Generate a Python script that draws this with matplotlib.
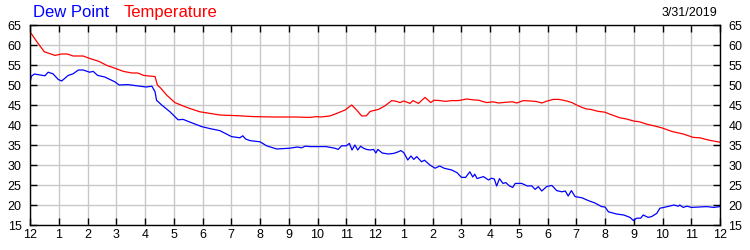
import matplotlib.pyplot as plt

# (hour after midnight, temperature F)
temp_readings = [
    (0, 63.3), (0.28, 60.4), (0.5, 58.3), (0.87, 57.4), (1.1, 57.75), (1.3, 57.75), (1.5, 57.25),
    (1.85, 57.25), (2.05, 56.7), (2.4, 55.9), (2.67, 54.9), (2.95, 54.2), (3.25, 53.4), (3.55, 53.0),
    (3.75, 53.0), (3.95, 52.4), (4.35, 52.1), (4.43, 50.0), (4.55, 49.2), (4.75, 47.5), (5.04, 45.6),
    (5.33, 44.75), (5.57, 44.1), (5.91, 43.3), (6.26, 42.9), (6.6, 42.5), (7.3, 42.3), (7.77, 42.1),
    (8.5, 42.0), (9.2, 42.0), (9.74, 41.9), (9.97, 42.1), (10.1, 42.0), (10.43, 42.25), (10.67, 42.9),
    (10.96, 43.75), (11.19, 45.0), (11.36, 43.75), (11.54, 42.25), (11.7, 42.3), (11.83, 43.4),
    (12.12, 43.9), (12.35, 44.8), (12.58, 46.1), (12.75, 45.9), (12.87, 45.6), (13.0, 46.0),
    (13.22, 45.4), (13.32, 46.1), (13.51, 45.4), (13.74, 46.9), (13.94, 45.6), (14.05, 46.2),
    (14.26, 46.1), (14.45, 45.9), (14.67, 46.1), (14.9, 46.1), (15.19, 46.5), (15.4, 46.3),
    (15.6, 46.2), (15.88, 45.6), (16.1, 45.8), (16.3, 45.5), (16.58, 45.7), (16.78, 45.8),
    (16.93, 45.5), (17.16, 46.1), (17.4, 46.0), (17.6, 45.9), (17.8, 45.5), (17.95, 45.9),
    (18.2, 46.4), (18.4, 46.4), (18.67, 46.0), (18.85, 45.6), (19.01, 45.0), (19.2, 44.4),
    (19.36, 44.0), (19.5, 43.9), (19.77, 43.4), (20.0, 43.2), (20.17, 42.7), (20.52, 41.8),
    (20.75, 41.5), (20.99, 41.0), (21.2, 40.8), (21.45, 40.2), (21.7, 39.8), (21.97, 39.3),
    (22.32, 38.4), (22.72, 37.75), (23.07, 36.9), (23.3, 36.8), (23.59, 36.25), (24.0, 35.7),
]

# (hour after midnight, dew point F)
dew_readings = [
    (0, 50.6), (0.05, 52.2), (0.15, 52.75), (0.35, 52.5), (0.52, 52.3), (0.63, 53.2), (0.8, 52.8),
    (0.98, 51.4), (1.1, 51.0), (1.33, 52.4), (1.5, 52.8), (1.68, 53.75), (1.85, 53.75), (2.07, 53.2),
    (2.2, 53.4), (2.35, 52.4), (2.6, 52.0), (2.95, 50.8), (3.1, 50.0), (3.4, 50.1), (3.76, 49.75),
    (4.04, 49.5), (4.24, 49.7), (4.35, 48.3), (4.4, 46.2), (4.58, 45.0), (4.87, 43.3), (5.04, 42.1),
    (5.15, 41.3), (5.33, 41.4), (5.5, 40.9), (5.74, 40.25), (5.97, 39.6), (6.26, 39.1), (6.6, 38.6),
    (7.01, 37.1), (7.3, 36.8), (7.4, 37.3), (7.5, 36.5), (7.65, 36.1), (8.0, 35.8), (8.23, 34.8),
    (8.58, 34.0), (9.04, 34.2), (9.3, 34.5), (9.45, 34.3), (9.57, 34.7), (9.75, 34.6), (9.97, 34.6),
    (10.3, 34.6), (10.6, 34.2), (10.72, 33.9), (10.84, 34.8), (11.0, 34.8), (11.11, 35.4),
    (11.2, 33.75), (11.3, 35.0), (11.4, 33.75), (11.5, 34.7), (11.6, 34.2), (11.7, 33.9),
    (11.83, 33.75), (11.95, 33.9), (12.03, 33.0), (12.1, 33.9), (12.25, 33.0), (12.46, 32.75),
    (12.65, 32.9), (12.81, 33.3), (12.9, 33.6), (13.0, 33.1), (13.14, 31.25), (13.25, 32.25),
    (13.35, 31.4), (13.45, 32.1), (13.62, 30.8), (13.72, 31.2), (13.91, 30.0), (14.09, 29.2),
    (14.25, 29.75), (14.4, 29.2), (14.67, 28.75), (14.85, 28.1), (15.01, 26.9), (15.15, 26.9),
    (15.3, 28.3), (15.4, 27.0), (15.47, 27.7), (15.55, 26.6), (15.77, 27.1), (15.95, 26.25),
    (16.05, 26.7), (16.15, 26.5), (16.23, 24.75), (16.33, 26.6), (16.45, 25.4), (16.55, 25.6),
    (16.68, 24.75), (16.79, 24.4), (16.88, 25.4), (17.1, 25.4), (17.3, 24.75), (17.45, 24.8),
    (17.57, 23.9), (17.68, 24.6), (17.8, 23.5), (17.97, 24.6), (18.15, 24.9), (18.32, 23.6),
    (18.5, 23.3), (18.62, 23.5), (18.72, 22.25), (18.83, 23.6), (18.96, 22.1), (19.2, 21.8),
    (19.42, 21.1), (19.65, 20.5), (19.88, 19.6), (20.0, 19.5), (20.12, 18.3), (20.4, 17.75),
    (20.65, 17.5), (20.87, 16.9), (20.99, 16.1), (21.1, 16.7), (21.24, 16.7), (21.33, 17.5),
    (21.5, 16.9), (21.62, 17.1), (21.8, 17.9), (21.91, 19.2), (22.05, 19.4), (22.26, 19.75),
    (22.4, 20.0), (22.55, 19.7), (22.6, 20.0), (22.72, 19.4), (22.85, 19.7), (23.01, 19.4),
    (23.3, 19.5), (23.54, 19.6), (23.78, 19.4), (24.0, 19.6),
]

temp_hours = [h for h, v in temp_readings]
temperature = [v for h, v in temp_readings]
dew_hours = [h for h, v in dew_readings]
dew_point = [v for h, v in dew_readings]

hour_ticks = list(range(0, 25))
hour_labels = ['12'] + [str(h) for h in range(1, 12)] + ['12'] + [str(h) for h in range(1, 12)] + ['12']
temp_ticks = list(range(15, 70, 5))

plt.rcParams['font.family'] = ['Liberation Sans', 'DejaVu Sans']

fig = plt.figure(figsize=(7.5, 2.5), dpi=100)
ax = fig.add_axes([0.04, 0.1, 0.92, 0.8])

ax.plot(dew_hours, dew_point, color='#0000ff', lw=0.9)
ax.plot(temp_hours, temperature, color='#ff0000', lw=0.9)

ax.set_xlim(0, 24)
ax.set_ylim(15, 65)
ax.set_xticks(hour_ticks)
ax.set_xticklabels(hour_labels)
ax.set_yticks(temp_ticks)
ax.grid(color='#c8c8c8', lw=1)
ax.set_axisbelow(True)
ax.tick_params(direction='in', length=5, width=1, labelsize=9, top=True, right=True,
               labelright=True, pad=3)
ax.tick_params(axis='y', pad=6)
for s in ax.spines.values():
    s.set_linewidth(1)

fig.text(0.044, 0.95, 'Dew Point', color='#0000ff', fontsize=12, va='center')
fig.text(0.165, 0.95, 'Temperature', color='#ff0000', fontsize=12, va='center')
fig.text(0.957, 0.95, '3/31/2019', color='black', fontsize=9, va='center', ha='right')

fig.savefig('out.png', dpi=100)
